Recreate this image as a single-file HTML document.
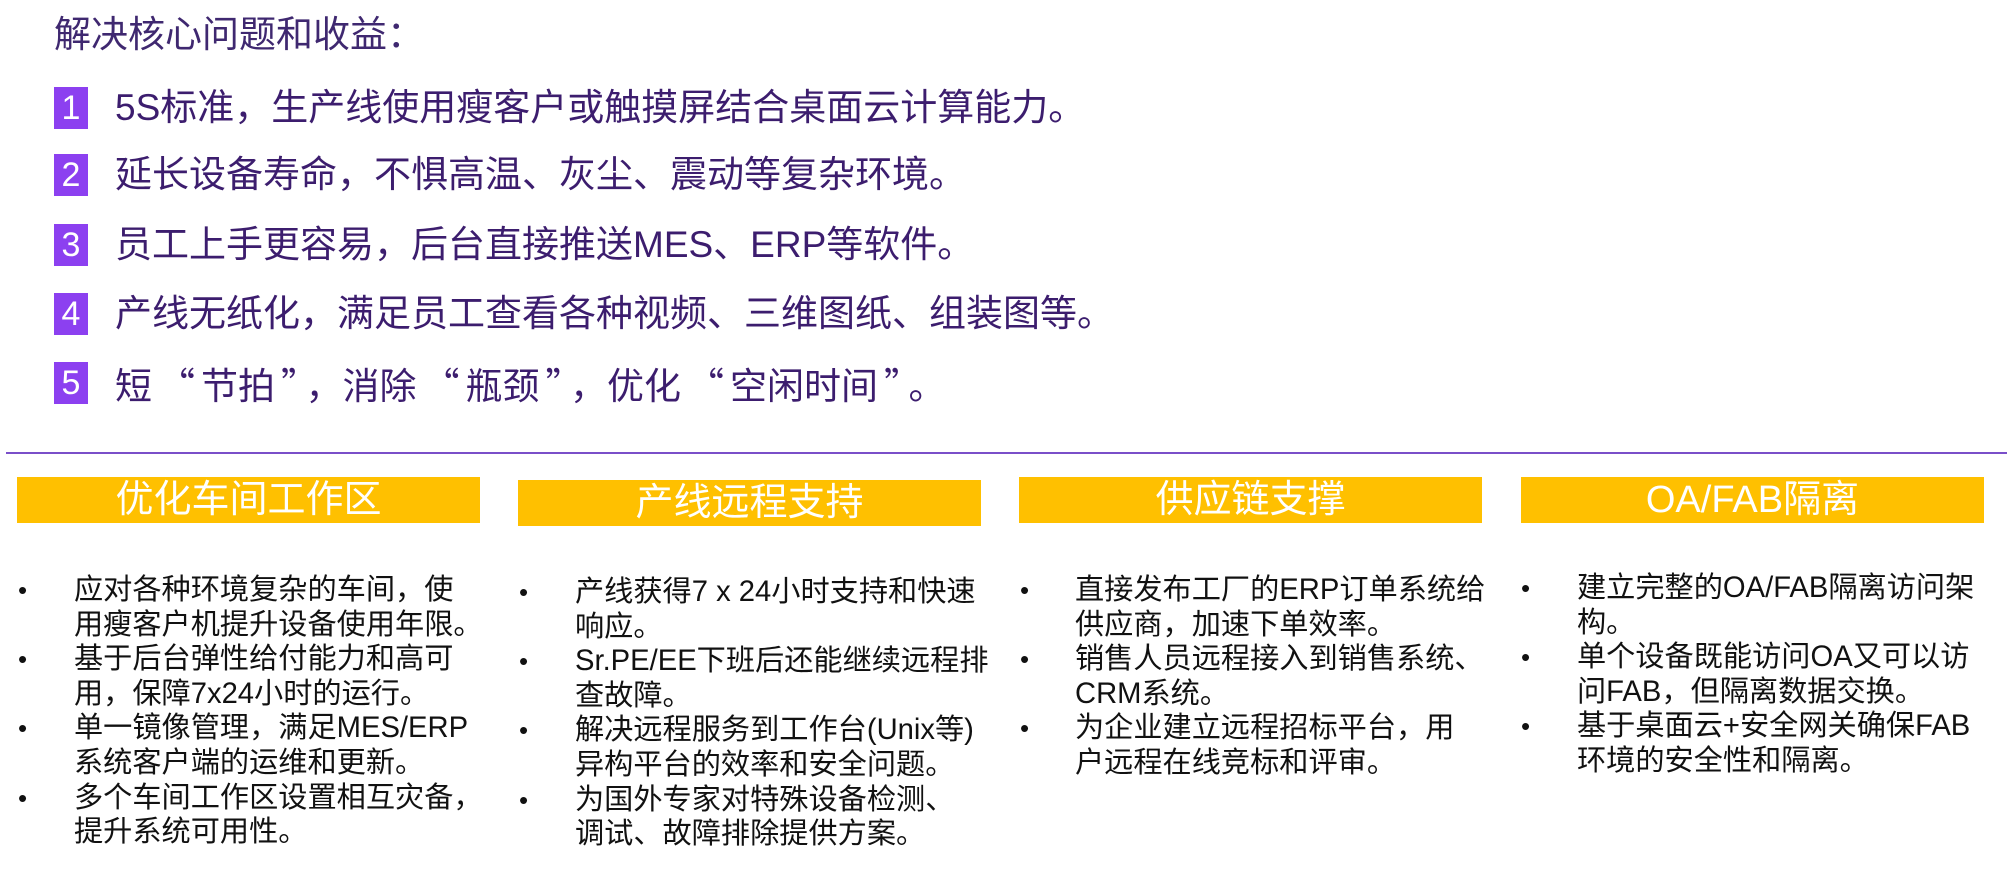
<!DOCTYPE html>
<html><head><meta charset="utf-8"><style>
body{margin:0;width:2007px;height:870px;background:#fff;position:relative;overflow:hidden;font-family:"Liberation Sans","Noto Sans CJK SC",sans-serif;}
.a{position:absolute;white-space:nowrap;}
.q{font-family:"Noto Sans CJK SC",sans-serif;padding:0 6px;}
.t{left:54px;top:12px;font-size:37px;line-height:46px;color:#3f2870;}
.it{left:115px;font-size:37px;line-height:46px;color:#3c1d6e;}
.bd{position:absolute;left:54px;width:34px;height:42px;background:#8c40f0;color:#fff;font-size:34px;line-height:42px;text-align:center;}
.hl{position:absolute;left:6px;right:0;top:452px;height:2px;background:#7a4fc9;}
.yb{position:absolute;width:463px;height:46px;background:#ffc000;color:#fff;font-size:38px;line-height:46px;text-align:center;}
.bl{position:absolute;font-size:29.2px;line-height:34.6px;color:#111;white-space:nowrap;}
.dot{position:absolute;font-size:26px;line-height:34.6px;color:#111;}
</style></head><body>
<div class="a t">解决核心问题和收益：</div>
<div class="bd" style="top:87px">1</div><div class="a it" style="top:85px">5S标准，生产线使用瘦客户或触摸屏结合桌面云计算能力。</div>
<div class="bd" style="top:154px">2</div><div class="a it" style="top:152px">延长设备寿命，不惧高温、灰尘、震动等复杂环境。</div>
<div class="bd" style="top:224px">3</div><div class="a it" style="top:222px">员工上手更容易，后台直接推送MES、ERP等软件。</div>
<div class="bd" style="top:293px">4</div><div class="a it" style="top:291px">产线无纸化，满足员工查看各种视频、三维图纸、组装图等。</div>
<div class="bd" style="top:362px">5</div><div class="a it" style="top:360px">短<span class="q">“</span>节拍<span class="q">”</span>，消除<span class="q">“</span>瓶颈<span class="q">”</span>，优化<span class="q">“</span>空闲时间<span class="q">”</span>。</div>
<div class="hl"></div>
<div class="yb" style="left:17px;top:477px">优化车间工作区</div>
<div class="yb" style="left:518px;top:480px">产线远程支持</div>
<div class="yb" style="left:1019px;top:477px">供应链支撑</div>
<div class="yb" style="left:1521px;top:477px">OA/FAB隔离</div>

<div class="dot" style="left:18px;top:573px">•<br><br>•<br><br>•<br><br>•</div>
<div class="bl" style="left:74px;top:573px">应对各种环境复杂的车间，使<br>用瘦客户机提升设备使用年限。<br>基于后台弹性给付能力和高可<br>用，保障7x24小时的运行。<br>单一镜像管理，满足MES/ERP<br>系统客户端的运维和更新。<br>多个车间工作区设置相互灾备，<br>提升系统可用性。</div>

<div class="dot" style="left:519px;top:575px">•<br><br>•<br><br>•<br><br>•</div>
<div class="bl" style="left:575px;top:575px">产线获得7 x 24小时支持和快速<br>响应。<br>Sr.PE/EE下班后还能继续远程排<br>查故障。<br>解决远程服务到工作台(Unix等)<br>异构平台的效率和安全问题。<br>为国外专家对特殊设备检测、<br>调试、故障排除提供方案。</div>

<div class="dot" style="left:1020px;top:573px">•<br><br>•<br><br>•</div>
<div class="bl" style="left:1075px;top:573px">直接发布工厂的ERP订单系统给<br>供应商，加速下单效率。<br>销售人员远程接入到销售系统、<br>CRM系统。<br>为企业建立远程招标平台，用<br>户远程在线竞标和评审。</div>

<div class="dot" style="left:1521px;top:571px">•<br><br>•<br><br>•</div>
<div class="bl" style="left:1577px;top:571px">建立完整的OA/FAB隔离访问架<br>构。<br>单个设备既能访问OA又可以访<br>问FAB，但隔离数据交换。<br>基于桌面云+安全网关确保FAB<br>环境的安全性和隔离。</div>
</body></html>
